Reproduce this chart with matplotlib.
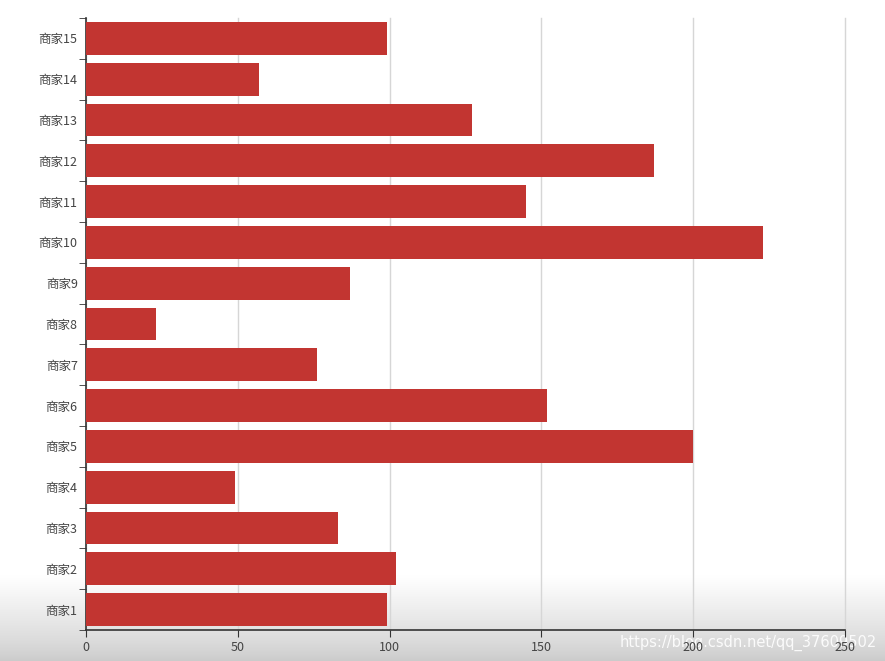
import matplotlib
matplotlib.use("Agg")
import matplotlib.pyplot as plt
import numpy as np

plt.rcParams['font.family'] = ['Noto Sans CJK SC', 'DejaVu Sans']

categories = ["商家1", "商家2", "商家3", "商家4", "商家5", "商家6", "商家7", "商家8",
              "商家9", "商家10", "商家11", "商家12", "商家13", "商家14", "商家15"]
values = [99, 102, 83, 49, 200, 152, 76, 23, 87, 223, 145, 187, 127, 57, 99]
x_ticks = [0, 50, 100, 150, 200, 250]

fig = plt.figure(figsize=(8.85, 6.61), dpi=100)

# bottom grey gradient of the screenshot
grad_ax = fig.add_axes([0, 0, 1, 0.13], zorder=-10)
g = np.linspace(0, 1, 100).reshape(-1, 1) ** 0.8
grad_ax.imshow(g, aspect='auto', cmap=matplotlib.colors.LinearSegmentedColormap.from_list(
    'g', ['#cbcbcb', '#ffffff']), origin='lower', extent=[0, 1, 0, 1])
grad_ax.axis('off')

ax = fig.add_axes([86/885, 1-630/661, (845-86)/885, (630-18)/661])
ax.patch.set_alpha(0)
y = np.arange(len(categories))
ax.barh(y, values, height=0.8, color='#c23531', edgecolor='none', zorder=3)

ax.set_xlim(0, 250)
ax.set_ylim(-0.5, len(categories) - 0.5)
ax.set_xticks(x_ticks)
ax.set_yticks(y)
ax.set_yticklabels(categories)
ax.set_yticks(np.arange(-0.5, len(categories), 1), minor=True)
ax.tick_params(axis='y', which='major', length=0, pad=6, labelsize=9, labelcolor='#444444')
ax.tick_params(axis='y', which='minor', length=5, color='#333333', direction='out')
ax.tick_params(axis='x', length=5, color='#333333', labelsize=9, labelcolor='#444444', pad=3)

ax.grid(axis='x', color='#d6d6d6', linewidth=1, zorder=0)
for gl in ax.get_xgridlines():
    gl.set_clip_on(False)
ax.set_axisbelow(True)
for s in ['top', 'right']:
    ax.spines[s].set_visible(False)
for s in ['left', 'bottom']:
    ax.spines[s].set_color('#333333')
    ax.spines[s].set_linewidth(1.2)

fig.text(0.700, 0.027, "https://blog.csdn.net/qq_37609502", color='white', fontsize=10.5,
         ha='left', va='center', family='DejaVu Sans', alpha=0.9, zorder=-5)

fig.savefig("out.png", dpi=100)
